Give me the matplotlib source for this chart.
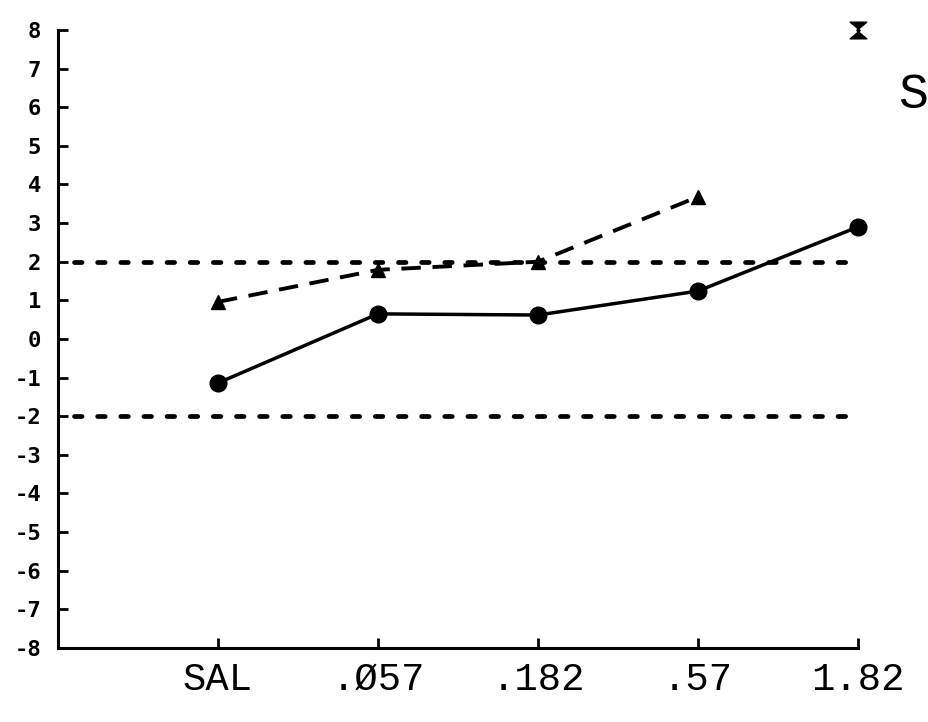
import matplotlib
matplotlib.use("Agg")
import matplotlib.pyplot as plt
from matplotlib.path import Path

# Dose groups and mean scores
doses = ["SAL", ".Ø57", ".182", ".57", "1.82"]
solid_series = [-1.14, 0.65, 0.62, 1.24, 2.9]
dashed_series = [0.96, 1.79, 2.0, 3.68]
top_mark_value = 8
y_ticks = list(range(-8, 9))
y_tick_labels = [str(v) for v in y_ticks]
ref_levels = [2, -2]

fig = plt.figure(figsize=(9.29, 7.22), dpi=100)
ax = fig.add_axes([0.0624, 0.1025, 0.861, 0.856])

x = list(range(len(doses)))

# Reference bands at +/-2
for lvl in ref_levels:
    ax.plot([-0.9, 4], [lvl, lvl], color="black", lw=3.4,
            linestyle=(0, (1.6, 3.3)), dash_capstyle="round", clip_on=False)

# Dashed series with triangles
ax.plot(x[:len(dashed_series)], dashed_series, color="black", lw=2.8,
        linestyle=(0, (5.0, 3.0)), marker="^", markersize=10,
        markerfacecolor="black", markeredgecolor="black", clip_on=False)

# Solid series with filled circles
ax.plot(x, solid_series, color="black", lw=2.5, marker="o", markersize=12,
        markerfacecolor="black", markeredgecolor="black", clip_on=False)

# Hourglass marker at the top of the last dose column
hourglass = Path([(-1, 1), (1, 1), (-0.2, 0), (1, -1), (-1, -1), (0.2, 0), (-1, 1)],
                 [Path.MOVETO, Path.LINETO, Path.LINETO, Path.LINETO,
                  Path.LINETO, Path.LINETO, Path.CLOSEPOLY])
ax.plot([x[-1]], [top_mark_value], marker=hourglass, markersize=12,
        color="black", linestyle="none", clip_on=False)

ax.set_xlim(-1, 4)
ax.set_ylim(-8, 8)

ax.spines["top"].set_visible(False)
ax.spines["right"].set_visible(False)
for side in ("left", "bottom"):
    ax.spines[side].set_linewidth(2.2)
    ax.spines[side].set_capstyle("projecting")

ax.set_yticks(y_ticks)
ax.set_yticklabels(y_tick_labels, fontfamily="DejaVu Sans Mono",
                   fontweight="bold", fontsize=16)
ax.set_xticks(x)
ax.set_xticklabels(doses, fontfamily="Liberation Mono", fontsize=28)

ax.tick_params(axis="y", direction="in", length=7, width=2, pad=12)
ax.tick_params(axis="x", direction="in", length=7, width=2, pad=10)

# Label at the right edge
fig.text(0.999, 0.868, "S", fontfamily="Liberation Mono", fontsize=36,
         ha="right", va="center")

fig.savefig("out.png", dpi=100)
